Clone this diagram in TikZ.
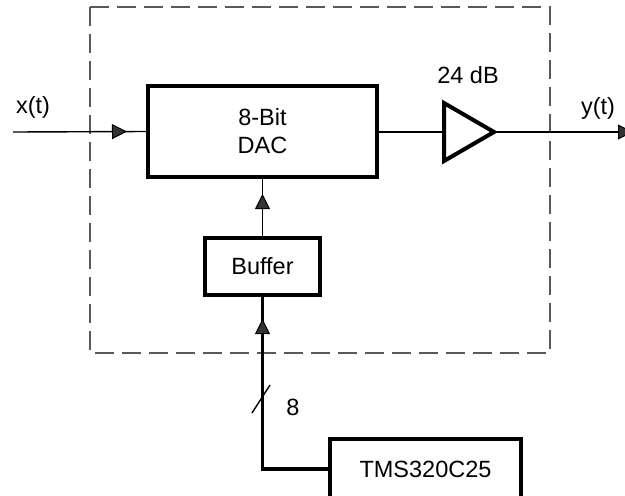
\documentclass[tikz,border=0pt]{standalone}
\usepackage{fontspec}
\setmainfont{Liberation Sans}
\usetikzlibrary{arrows.meta,decorations.markings}
\tikzset{
  blk/.style={draw, line width=4pt, inner sep=0pt, align=center, font=\fontsize{23.5}{28}\selectfont},
  lbl/.style={inner sep=0pt, font=\fontsize{23.5}{28}\selectfont},
  sig/.style={line width=1.4pt},
  bus/.style={line width=3.5pt},
  tipat/.style={postaction={decorate}, decoration={markings,
     mark=at position #1 with {\arrow[line width=1pt]{Triangle[length=15pt,width=15pt,fill=black!80]}}}},
  frame/.style={draw=black!65, line width=1.3pt, dash pattern=on 19pt off 8pt}
}
\begin{document}
\begin{tikzpicture}[x=1pt,y=-1pt]
\useasboundingbox (0,0) rectangle (625,496);
\clip (0,0) rectangle (625,496);
% dashed frame
\draw[frame] (90,7) rectangle (550,353);
% blocks
\node[blk, minimum width=229pt, minimum height=91pt] (dac) at (262.5,131.5) {8-Bit\\DAC};
\node[blk, minimum width=115pt, minimum height=57pt] (buf) at (262.5,266.5) {Buffer};
\node[blk, minimum width=191pt, minimum height=60pt] (tms) at (425.5,469) {TMS320C25};
% amplifier
\coordinate (ampin) at (444,132);
\coordinate (ampout) at (494,132);
\draw[line width=4pt, line join=miter] (444,103) -- (ampout) -- (444,161) -- cycle;
% endpoints
\coordinate (xin) at (13,132);
\coordinate (yout) at (634,132);
\coordinate (corner) at (262.5,469);
% labels
\node[lbl] (xl) at (33,107) {x(t)};
\node[lbl] (yl) at (598,108) {y(t)};
\node[lbl] (gain) at (468,75) {24 dB};
\node[lbl] (eight) at (293,407) {8};
% connectors
\draw[sig, tipat=-19pt] (xin) -- (dac.west);
\draw[sig] (dac.east |- ampin) -- (ampin);
\draw[sig, tipat=-1pt] (ampout) -- (yout);
\draw[sig, tipat=-15pt] (buf.north) -- (dac.south);
\draw[bus, tipat=-22pt] (tms.west) -- (corner) -- (buf.south);
% bus width slash
\coordinate (s1) at (252,413);
\coordinate (s2) at (270,385);
\draw[sig] (s1) -- (s2);
\end{tikzpicture}
\end{document}
